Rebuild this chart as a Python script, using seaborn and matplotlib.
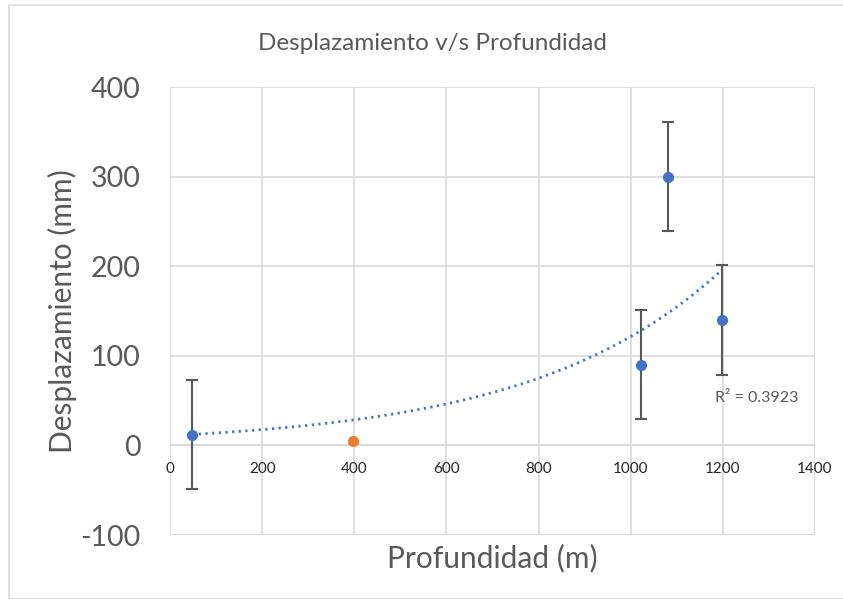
import numpy as np
import pandas as pd
import matplotlib
matplotlib.use("Agg")
import matplotlib.pyplot as plt
import seaborn as sns
from matplotlib.patches import Rectangle

# Data
depth_main = [48, 1023, 1081, 1198]
disp_main = [12, 90, 300, 140]
err_main = [61, 61, 61, 61]
depth_other = [397]
disp_other = [5]

title = "Desplazamiento v/s Profundidad"
xlabel = "Profundidad (m)"
ylabel = "Desplazamiento (mm)"
r2_text = "R² = 0.3923"
xticks = [0, 200, 400, 600, 800, 1000, 1200, 1400]
yticks = [-100, 0, 100, 200, 300, 400]

sns.set_theme(style="white")
plt.rcParams['font.family'] = ['Lato', 'DejaVu Sans']

BLUE = "#4472C4"
ORANGE = "#ED7D31"
GRID = "#d9d9d9"
TXT = "#595959"

fig = plt.figure(figsize=(8.43, 5.99), dpi=100)
fig.patch.set_facecolor("white")
fig.patches.append(Rectangle((9/843, 0), 1 - 9/843 + 0.01, 1 - 5/599,
                             transform=fig.transFigure, fill=False,
                             edgecolor=GRID, linewidth=1.2))
ax = fig.add_axes([170/843, 1 - 535/599, (815 - 170)/843, (535 - 87)/599])

# Trendline (exponential fit on main series)
b, lna = np.polyfit(np.array(depth_main, float), np.log(np.array(disp_main, float)), 1)
xs = np.linspace(min(depth_main), max(depth_main), 200)
trend = pd.DataFrame({"x": xs, "y": np.exp(lna) * np.exp(b * xs)})
sns.lineplot(data=trend, x="x", y="y", ax=ax, color=BLUE, linewidth=2,
             linestyle=(0, (0.8, 1.6)), zorder=3)

ax.errorbar(depth_main, disp_main, yerr=err_main, fmt="none",
            ecolor="#595959", elinewidth=1.5, capsize=4, capthick=1.5, zorder=4)

df_main = pd.DataFrame({"x": depth_main, "y": disp_main})
df_other = pd.DataFrame({"x": depth_other, "y": disp_other})
sns.scatterplot(data=df_main, x="x", y="y", ax=ax, color=BLUE, s=65,
                edgecolor=BLUE, linewidth=0, zorder=5)
sns.scatterplot(data=df_other, x="x", y="y", ax=ax, color=ORANGE, s=65,
                edgecolor=ORANGE, linewidth=0, zorder=5)

ax.set_xlim(0, 1400)
ax.set_ylim(-100, 400)
ax.set_xticks(xticks)
ax.set_yticks(yticks)
ax.set_xticklabels([str(v) for v in xticks], fontsize=11.5, color=TXT)
ax.set_yticklabels([str(v) for v in yticks], fontsize=20.5, color=TXT)
ax.grid(True, color=GRID, linewidth=1.2)
ax.set_axisbelow(True)
for s in ["top", "right", "left"]:
    ax.spines[s].set_visible(False)
ax.spines["bottom"].set_position(("data", 0))
ax.spines["bottom"].set_color(GRID)
ax.spines["bottom"].set_linewidth(1.2)
ax.tick_params(axis="both", length=0)
ax.tick_params(axis="x", pad=12)
ax.tick_params(axis="y", pad=21)
ax.axhline(-100, color=GRID, linewidth=1.2, zorder=0)
ax.axvline(1400, color=GRID, linewidth=1.2, zorder=0)
ax.set_xlabel("")
ax.set_ylabel("")

ax.text(1183, 53, r2_text, fontsize=11.5, color=TXT, ha="left", va="center")

fig.text(432/843, 1 - 44/599, title, fontsize=17.5, color=TXT, ha="center", va="center")
fig.text(492/843, 1 - 558/599, xlabel, fontsize=21.5, color=TXT, ha="center", va="center")
fig.text(62/843, 1 - 311/599, ylabel, fontsize=21.5, color=TXT, ha="center", va="center",
         rotation=90)

fig.savefig("out.png", dpi=100)
